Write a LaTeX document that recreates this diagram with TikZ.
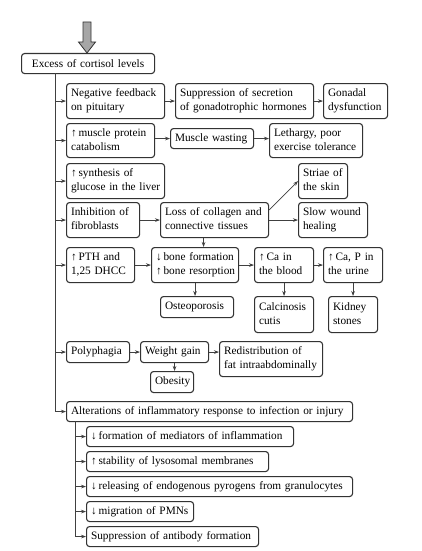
\documentclass[tikz,border=0pt]{standalone}
\usepackage{fontspec}
\setmainfont{Liberation Serif}
\usetikzlibrary{arrows.meta}
\newcommand\boxlines[1]{\begin{tabular}{@{}l@{}}#1\end{tabular}}
\begin{document}
\begin{tikzpicture}[x=1pt,y=-1pt,
  bx/.style={draw=black!80, line width=1.1pt, rounded corners=3pt, anchor=north west,
    align=left, inner xsep=4.5pt, inner ysep=1pt, text=black,
    font=\fontsize{11.3pt}{14pt}\selectfont},
  arr/.style={draw=black!75, line width=0.7pt, -{Stealth[length=5pt,width=3.6pt]}},
  ln/.style={draw=black!75, line width=0.9pt}]
\useasboundingbox[fill=white] (0,0) rectangle (422,551);
% top block arrow
\draw[fill=black!35, draw=black!80, line width=0.8pt]
  (83,22) -- (91,22) -- (91,42) -- (95.5,42) -- (87,53) -- (78.5,42) -- (83,42) -- cycle;
% main
\node[bx, align=center, text width=124pt, minimum height=20pt] (ex) at (21,53) {Excess of cortisol levels};
% row 1
\node[bx, text width=89pt, minimum height=35pt] (n1) at (66,83) {\boxlines{Negative feedback\\on pituitary}};
\node[bx, text width=129pt, minimum height=35pt] (n2) at (175,83) {\boxlines{Suppression of secretion\\of gonadotrophic hormones}};
\node[bx, text width=55pt, minimum height=35pt] (n3) at (323,83) {\boxlines{Gonadal\\dysfunction}};
% row 2
\node[bx, text width=79pt, minimum height=34pt] (m1) at (66,123) {\boxlines{↑\,muscle protein\\catabolism}};
\node[bx, text width=74pt, minimum height=20pt] (m2) at (170,128) {\boxlines{Muscle wasting}};
\node[bx, text width=84pt, minimum height=34pt] (m3) at (269,123) {\boxlines{Lethargy, poor\\exercise tolerance}};
% row 3
\node[bx, text width=89pt, minimum height=35pt] (s1) at (66,163) {\boxlines{↑\,synthesis of\\glucose in the liver}};
\node[bx, text width=40pt, minimum height=35pt] (st) at (298,163) {\boxlines{Striae of\\the skin}};
% row 4
\node[bx, text width=64pt, minimum height=35pt] (i1) at (66,202) {\boxlines{Inhibition of\\fibroblasts}};
\node[bx, text width=99pt, minimum height=35pt] (i2) at (160,202) {\boxlines{Loss of collagen and\\connective tissues}};
\node[bx, text width=60pt, minimum height=35pt] (i3) at (298,202) {\boxlines{Slow wound\\healing}};
% row 5
\node[bx, text width=59pt, minimum height=35pt] (p1) at (66,247) {\boxlines{↑\,PTH and\\1,25 DHCC}};
\node[bx, text width=78pt, minimum height=35pt] (p2) at (151,247) {\boxlines{↓\,bone formation\\↑\,bone resorption}};
\node[bx, text width=50pt, minimum height=35pt] (p3) at (254,247) {\boxlines{↑\,Ca in\\the blood}};
\node[bx, text width=50pt, minimum height=35pt] (p4) at (323,247) {\boxlines{↑\,Ca, P in\\the urine}};
\node[bx, text width=64pt, minimum height=21pt] (o1) at (160,296) {\boxlines{Osteoporosis}};
\node[bx, text width=50pt, minimum height=36pt] (o2) at (254,296) {\boxlines{Calcinosis\\cutis}};
\node[bx, text width=40pt, minimum height=36pt] (o3) at (328,296) {\boxlines{Kidney\\stones}};
% row 6
\node[bx, text width=54pt, minimum height=21pt] (y1) at (66,341) {\boxlines{Polyphagia}};
\node[bx, text width=59pt, minimum height=21pt] (y2) at (140,341) {\boxlines{Weight gain}};
\node[bx, text width=94pt, minimum height=35pt] (y3) at (219,341) {\boxlines{Redistribution of\\fat intraabdominally}};
\node[bx, text width=34pt, minimum height=21pt] (y4) at (150,371) {\boxlines{Obesity}};
% row 7
\node[bx, text width=277pt, minimum height=20pt] (a0) at (66,401) {\boxlines{Alterations of inflammatory response to infection or injury}};
\node[bx, text width=198pt, minimum height=20pt] (a1) at (86,426) {\boxlines{↓\,formation of mediators of inflammation}};
\node[bx, text width=173pt, minimum height=20pt] (a2) at (86,451) {\boxlines{↑\,stability of lysosomal membranes}};
\node[bx, text width=257pt, minimum height=20pt] (a3) at (86,476) {\boxlines{↓\,releasing of endogenous pyrogens from granulocytes}};
\node[bx, text width=98pt, minimum height=20pt] (a4) at (86,501) {\boxlines{↓\,migration of PMNs}};
\node[bx, text width=163pt, minimum height=20pt] (a5) at (86,526) {\boxlines{Suppression of antibody formation}};
% trunk
\coordinate (tt) at (55,73);
\coordinate (tb) at (55,411);
\draw[ln] (tt) -- (tb);
\foreach \n in {n1,m1,s1,i1,p1,y1,a0} \draw[arr] (tt |- \n.west) -- (\n.west);
% sub trunk
\coordinate (ut) at (75,421);
\coordinate (ub) at (75,536);
\draw[ln] (ut) -- (ub);
\foreach \n in {a1,a2,a3,a4,a5} \draw[arr] (ut |- \n.west) -- (\n.west);
% chains
\draw[arr] (n1.east) -- (n2.west);
\draw[arr] (n2.east) -- (n3.west);
\draw[arr] (m2.west -| m1.east) -- (m2.west);
\draw[arr] (m2.east) -- (m2.east -| m3.west);
\draw[arr] (i1.east) -- (i2.west);
\draw[arr] ([yshift=-8pt]i2.north east) -- (st.west);
\draw[arr] (i2.east) -- (i3.west);
\draw[arr] ([xshift=-11pt]i2.south) -- ([xshift=-11pt]i2.south |- p2.north);
\draw[arr] (p1.east) -- (p2.west);
\draw[arr] (p2.east) -- (p3.west);
\draw[arr] (p3.east) -- (p4.west);
\draw[arr] (p2.south) -- (p2.south |- o1.north);
\draw[arr] (p3.south) -- (p3.south |- o2.north);
\draw[arr] (p4.south) -- (p4.south |- o3.north);
\draw[arr] (y1.east) -- (y2.west);
\draw[arr] (y2.east) -- (y2.east -| y3.west);
\draw[arr] (y2.south) -- (y2.south |- y4.north);
\end{tikzpicture}
\end{document}
